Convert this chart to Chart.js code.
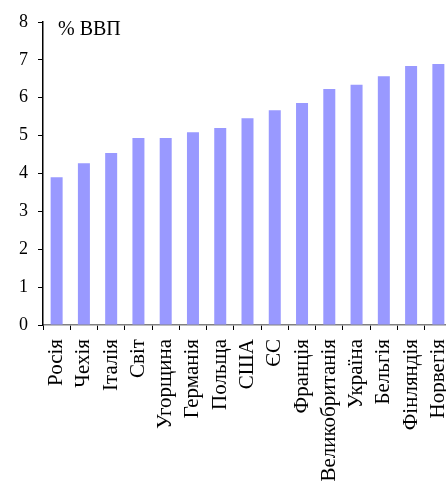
<!DOCTYPE html>
<html>
<head>
<meta charset="utf-8">
<script src="https://cdn.jsdelivr.net/npm/chart.js@4"></script>
<style>
  html, body { margin: 0; padding: 0; background: #fff; overflow: hidden; }
  #wrap { position: relative; width: 452px; height: 487px; }
</style>
</head>
<body>
<div id="wrap"><canvas id="chart"></canvas></div>
<script>
// --- DATOS ---
const countries = ["Росія", "Чехія", "Італія", "Світ", "Угорщина", "Германія", "Польща",
  "США", "ЄС", "Франція", "Великобританія", "Україна", "Бельгія", "Фінляндія", "Норвегія"];
const spending = [3.9, 4.27, 4.54, 4.94, 4.94, 5.09, 5.2, 5.46, 5.67, 5.86, 6.23, 6.34, 6.57, 6.84, 6.89];
const yTicks = [0, 1, 2, 3, 4, 5, 6, 7, 8];
const unitLabel = "% ВВП";

const serif = "'Liberation Serif', 'Times New Roman', serif";

// texto de unidades dentro del área del gráfico
const unitPlugin = {
  id: "unitLabel",
  afterDraw(chart) {
    const { ctx, chartArea } = chart;
    ctx.save();
    ctx.font = "20px " + serif;
    ctx.fillStyle = "#000";
    ctx.textBaseline = "middle";
    ctx.fillText(unitLabel, chartArea.left + 15, chartArea.top + 8);
    ctx.restore();
  }
};

new Chart(document.getElementById("chart"), {
  type: "bar",
  data: {
    labels: countries,
    datasets: [{
      data: spending,
      backgroundColor: "#9999ff",
      borderWidth: 0,
      barPercentage: 0.44,
      categoryPercentage: 1
    }]
  },
  options: {
    responsive: true,
    maintainAspectRatio: false,
    animation: false,
    layout: { padding: { top: 22, right: 0, left: 0, bottom: 0 } },
    plugins: { legend: { display: false }, tooltip: { enabled: false } },
    scales: {
      x: {
        grid: { display: true, drawOnChartArea: false, tickLength: 5, tickColor: "#000", offset: true },
        border: { color: "#808080", width: 1.5 },
        ticks: {
          color: "#000",
          font: { family: serif, size: 21 },
          minRotation: 90,
          maxRotation: 90,
          padding: 9,
          autoSkip: false
        },
        afterFit(scale) {
          scale.height = 162;
          scale.paddingLeft = 0;
          scale.paddingRight = 0;
        }
      },
      y: {
        min: 0,
        max: 8,
        afterBuildTicks(scale) { scale.ticks = yTicks.map(v => ({ value: v })); },
        grid: { display: true, drawOnChartArea: false, tickLength: 5, tickColor: "#000" },
        border: { color: "#000", width: 1.5 },
        ticks: {
          color: "#000",
          font: { family: serif, size: 18 },
          padding: 10
        },
        afterFit(scale) { scale.width = 43; }
      }
    }
  },
  plugins: [unitPlugin]
});
</script>
</body>
</html>
